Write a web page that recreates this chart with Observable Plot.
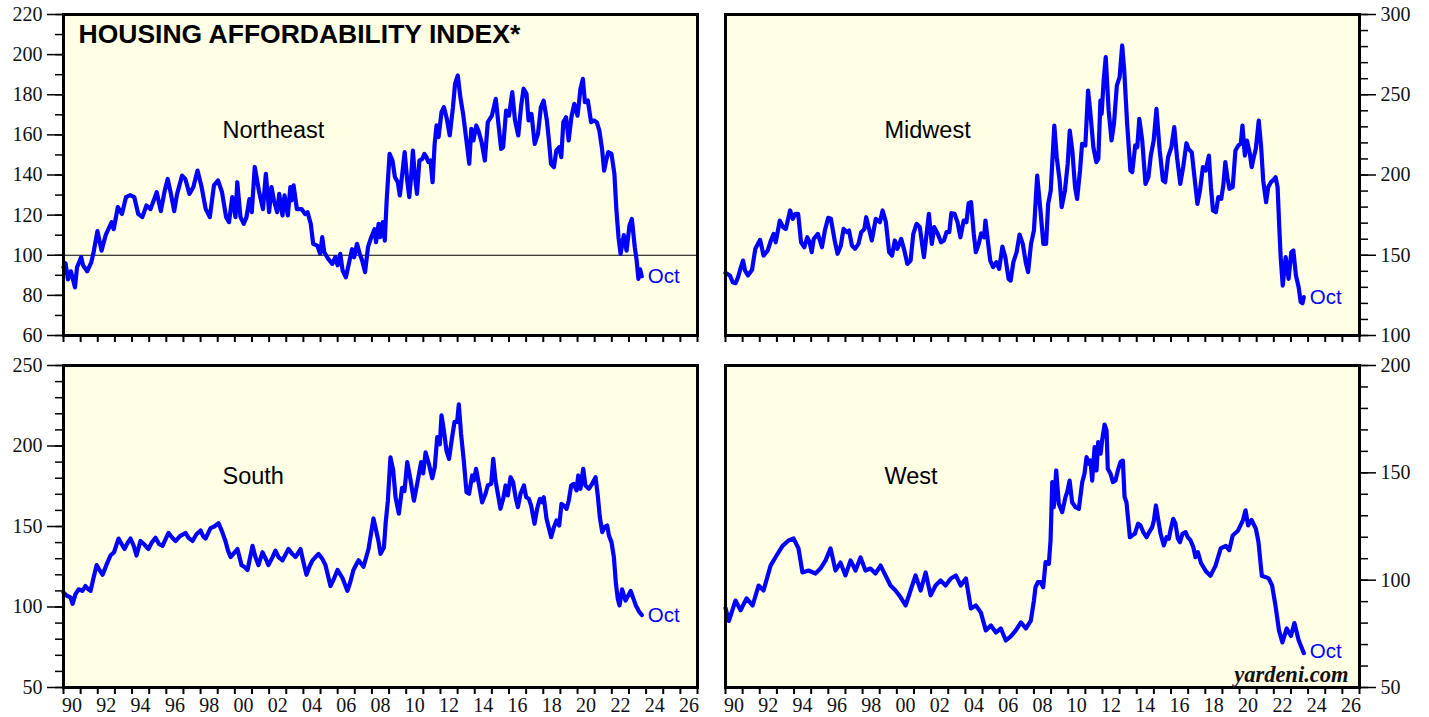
<!DOCTYPE html>
<html>
<head>
<meta charset="utf-8">
<script src="https://cdn.jsdelivr.net/npm/d3@7"></script>
<script src="https://cdn.jsdelivr.net/npm/@observablehq/plot@0.6"></script>
<style>
  html, body { margin: 0; padding: 0; background: #ffffff; width: 1429px; height: 717px; overflow: hidden; }
  #wrap { position: relative; width: 1429px; height: 717px; }
  .panel { position: absolute; }
</style>
</head>
<body>
<div id="wrap"></div>
<script>
// ---------------- DATA (decimal year, index value) ----------------
const northeast = [[1990.00,94],[1990.12,96],[1990.26,88],[1990.43,92],[1990.67,84],[1990.79,94],[1991.03,99],[1991.14,95],[1991.38,92],[1991.62,96.5],[1991.74,100.7],[1991.98,112],[1992.22,102.3],[1992.46,110],[1992.81,116.5],[1992.93,113],[1993.17,124],[1993.41,120.6],[1993.65,129],[1993.89,130],[1994.13,129],[1994.36,120.6],[1994.60,119],[1994.84,124.8],[1995.08,123],[1995.44,131.4],[1995.68,122],[1995.91,132.3],[1996.08,138],[1996.27,130.6],[1996.46,122],[1996.63,130.6],[1996.92,139.7],[1997.11,138],[1997.35,130.6],[1997.58,134],[1997.82,142.2],[1998.06,134],[1998.30,123],[1998.54,119],[1998.78,134.8],[1999.02,137.3],[1999.25,131.4],[1999.49,119],[1999.66,116.5],[1999.85,129],[2000.04,119],[2000.14,136.4],[2000.33,119],[2000.52,115.7],[2000.68,119],[2000.85,128],[2000.99,121.5],[2001.16,144],[2001.40,132.3],[2001.64,123],[2001.81,140.6],[2002.00,121.5],[2002.14,134],[2002.28,127.3],[2002.47,121.5],[2002.59,130.6],[2002.78,119.8],[2002.90,129.8],[2003.09,119.8],[2003.24,134],[2003.31,127.3],[2003.43,134.8],[2003.62,123],[2003.90,123],[2004.10,120.6],[2004.24,121.5],[2004.43,115.7],[2004.57,105.7],[2004.81,104.8],[2004.98,100.7],[2005.10,109],[2005.22,101.5],[2005.45,98.2],[2005.69,95.7],[2005.86,99],[2006.00,95],[2006.15,100.7],[2006.29,92.4],[2006.48,89],[2006.65,95.7],[2006.84,103],[2006.96,99],[2007.13,105.7],[2007.29,100.7],[2007.43,97.4],[2007.60,91.6],[2007.77,104],[2007.96,109],[2008.15,113],[2008.24,106.5],[2008.39,115.7],[2008.48,109],[2008.63,116.5],[2008.75,107.3],[2008.86,127.3],[2009.03,150.5],[2009.20,147.2],[2009.34,139],[2009.51,136.4],[2009.63,129.8],[2009.75,139],[2009.91,151.4],[2010.06,137.3],[2010.18,129],[2010.30,140.6],[2010.39,152.2],[2010.51,139],[2010.63,130.6],[2010.77,147.2],[2010.94,148],[2011.06,150.5],[2011.18,148.9],[2011.30,146.4],[2011.42,147.2],[2011.54,136.4],[2011.66,155.5],[2011.77,164.7],[2011.89,158.9],[2012.06,171.3],[2012.20,173.8],[2012.37,168],[2012.54,159.7],[2012.73,173.8],[2012.85,185.4],[2013.01,189.6],[2013.16,178.8],[2013.32,170.5],[2013.49,158.9],[2013.68,145.6],[2013.80,163],[2013.92,157.2],[2014.09,164.7],[2014.21,162.2],[2014.40,156.4],[2014.59,147.2],[2014.76,166.3],[2015.00,169.6],[2015.23,178],[2015.35,168],[2015.54,153],[2015.66,153.9],[2015.83,172.1],[2016.00,169.6],[2016.19,181.3],[2016.35,167.2],[2016.54,159.7],[2016.71,174.6],[2016.85,183],[2017.02,180.5],[2017.14,167.2],[2017.31,170.5],[2017.50,155.5],[2017.69,160.5],[2017.86,173.8],[2018.02,177.1],[2018.21,167.2],[2018.33,157.2],[2018.45,145.6],[2018.62,143.9],[2018.76,152.2],[2018.93,153.9],[2019.05,148.9],[2019.17,166.3],[2019.33,168.8],[2019.48,157.2],[2019.64,168.8],[2019.81,175.5],[2020.00,169.6],[2020.17,183],[2020.31,187.9],[2020.43,176.3],[2020.60,177.1],[2020.79,166.3],[2020.96,167.2],[2021.12,166.3],[2021.27,162.2],[2021.43,153],[2021.55,142.2],[2021.67,147.2],[2021.79,151.4],[2021.98,150.5],[2022.15,140.6],[2022.27,122.3],[2022.39,109],[2022.51,100.7],[2022.70,110],[2022.86,102.3],[2023.03,114.8],[2023.17,118.1],[2023.34,104],[2023.45,97.4],[2023.55,88.2],[2023.65,93],[2023.75,89.5]];

const midwest = [[1990.00,139],[1990.26,137.4],[1990.42,133.2],[1990.59,132.6],[1990.73,136.3],[1990.90,142.6],[1991.02,146.7],[1991.14,140.5],[1991.31,137.4],[1991.55,141],[1991.74,154],[1992.02,159.6],[1992.22,149.8],[1992.46,152.9],[1992.65,159.2],[1992.81,163.3],[1992.93,158.1],[1993.17,171.6],[1993.36,167.5],[1993.52,166.4],[1993.77,177.9],[1993.93,172.7],[1994.08,175.8],[1994.24,175.8],[1994.41,158.1],[1994.60,155],[1994.77,161.2],[1994.91,158.1],[1995.03,151.9],[1995.15,160.2],[1995.39,163.3],[1995.63,155],[1995.80,165.4],[1995.99,173.3],[1996.15,172.7],[1996.37,159.2],[1996.54,150.9],[1996.73,156],[1996.89,166.4],[1997.09,164.4],[1997.21,165.4],[1997.38,156],[1997.56,154],[1997.76,157.1],[1997.92,164.4],[1998.11,166.4],[1998.21,173.7],[1998.40,165.4],[1998.54,159.2],[1998.77,172.7],[1999.01,170.6],[1999.17,177.9],[1999.36,170.6],[1999.55,151.9],[1999.72,149.8],[1999.88,159.2],[2000.03,154],[2000.25,160.2],[2000.44,152.9],[2000.61,144.6],[2000.80,146.7],[2000.96,163.3],[2001.15,169.6],[2001.34,167.5],[2001.58,148.8],[2001.87,175.8],[2002.04,157.1],[2002.18,167.5],[2002.39,163.3],[2002.58,158.1],[2002.75,159.2],[2002.90,164.4],[2003.06,164.4],[2003.18,176.2],[2003.37,175.8],[2003.54,170.6],[2003.71,161.2],[2003.90,171.6],[2004.06,170.6],[2004.19,182.4],[2004.33,183.1],[2004.49,163.3],[2004.61,151.9],[2004.78,157.1],[2004.92,163.7],[2005.09,161.2],[2005.17,171.6],[2005.33,157.1],[2005.45,146.7],[2005.62,142.6],[2005.81,145.7],[2005.97,141.5],[2006.16,155.4],[2006.33,148.8],[2006.52,135.3],[2006.64,134.2],[2006.80,145.7],[2006.99,151.9],[2007.16,162.9],[2007.35,157.1],[2007.52,145.7],[2007.66,139.5],[2007.83,157.1],[2008.00,165.4],[2008.19,199.7],[2008.38,177.9],[2008.55,157.1],[2008.71,157.1],[2008.83,182],[2008.98,190.3],[2009.19,230.8],[2009.33,211.1],[2009.50,196.6],[2009.62,180],[2009.81,190.3],[2009.97,206.9],[2010.09,227.7],[2010.24,215.3],[2010.40,192.4],[2010.52,185.1],[2010.69,202.8],[2010.81,219.4],[2011.00,218.4],[2011.16,252.6],[2011.28,240.2],[2011.47,217.3],[2011.64,208],[2011.76,210.1],[2011.88,246.4],[2011.95,238.1],[2012.07,258.9],[2012.19,273.4],[2012.36,240.2],[2012.53,221.5],[2012.67,231.9],[2012.84,255.8],[2013.00,261],[2013.15,280.7],[2013.27,265.1],[2013.44,231.9],[2013.63,202.8],[2013.74,201.8],[2013.91,218.4],[2014.03,217.3],[2014.15,235],[2014.32,221.5],[2014.51,194.5],[2014.68,198.6],[2014.82,212.1],[2014.99,221.5],[2015.15,241.2],[2015.34,215.3],[2015.53,196.6],[2015.66,195.5],[2015.83,211.1],[2016.02,217.3],[2016.19,229.8],[2016.35,211.1],[2016.54,194.5],[2016.71,204.9],[2016.90,219.8],[2017.02,216.3],[2017.21,214.2],[2017.37,198.6],[2017.54,182],[2017.69,190.3],[2017.86,204.9],[2018.02,202.8],[2018.21,212.1],[2018.33,192.4],[2018.45,177.9],[2018.62,176.8],[2018.76,186.2],[2018.93,185.1],[2019.05,193.4],[2019.17,208],[2019.29,198.6],[2019.41,191.4],[2019.60,192.4],[2019.76,215.3],[2019.93,218.4],[2020.07,219.4],[2020.17,230.8],[2020.31,212.1],[2020.43,221.5],[2020.60,213.2],[2020.71,204.9],[2020.83,211.1],[2020.95,216.3],[2021.12,233.9],[2021.26,217.3],[2021.38,196.6],[2021.55,183.1],[2021.67,192.4],[2021.83,195.5],[2021.98,197],[2022.10,198.6],[2022.22,192.4],[2022.31,169.6],[2022.40,148.8],[2022.52,131.1],[2022.69,148.8],[2022.86,135.3],[2023.02,151.9],[2023.14,152.9],[2023.29,137.4],[2023.45,130.1],[2023.57,120.8],[2023.67,120.1],[2023.75,123.9]];

const south = [[1990.00,109],[1990.20,107],[1990.41,106],[1990.53,102],[1990.70,108],[1990.88,111],[1991.10,110],[1991.28,113],[1991.45,111],[1991.58,110],[1991.75,118],[1991.93,126],[1992.10,123],[1992.28,120],[1992.50,126],[1992.74,132],[1992.95,134],[1993.21,142.5],[1993.40,139],[1993.56,136],[1993.75,140],[1993.91,142.5],[1994.10,138],[1994.26,132],[1994.49,141],[1994.70,139],[1994.96,136],[1995.15,140],[1995.37,143],[1995.58,139],[1995.78,138],[1995.95,142],[1996.13,146],[1996.35,143],[1996.54,141],[1996.80,144],[1997.12,146],[1997.30,143],[1997.53,141],[1997.75,145],[1998.00,147.5],[1998.15,144],[1998.29,142.5],[1998.58,149],[1998.80,150],[1999.05,152],[1999.25,147],[1999.45,141],[1999.60,135],[1999.75,131],[2000.15,136],[2000.39,126],[2000.55,125],[2000.74,123],[2001.03,138],[2001.20,131],[2001.38,126],[2001.61,134],[2001.80,130],[2001.96,126],[2002.20,131],[2002.37,135],[2002.55,131],[2002.78,129],[2003.13,136],[2003.35,133],[2003.54,131],[2003.83,136],[2004.00,128],[2004.18,120],[2004.35,125],[2004.53,129],[2004.88,133],[2005.10,130],[2005.29,126],[2005.58,113],[2005.80,118],[2005.99,123],[2006.28,118],[2006.57,110],[2006.75,116],[2006.92,123],[2007.22,129],[2007.51,125],[2007.80,136],[2008.09,155],[2008.38,141],[2008.50,133],[2008.70,137],[2008.80,152],[2008.93,166],[2009.08,193],[2009.24,185],[2009.38,168],[2009.57,158],[2009.76,174],[2009.90,172],[2010.06,190],[2010.25,179],[2010.45,166],[2010.64,176.5],[2010.87,190],[2010.99,183],[2011.13,196],[2011.32,189],[2011.52,180],[2011.67,187],[2011.81,205.5],[2011.96,201],[2012.06,219],[2012.20,209.6],[2012.35,197],[2012.50,192],[2012.68,205.5],[2012.82,215],[2012.97,215],[2013.07,225.8],[2013.20,207.6],[2013.36,191],[2013.52,171.3],[2013.67,170.3],[2013.85,181.7],[2013.95,178.6],[2014.08,185.8],[2014.24,176.5],[2014.43,165],[2014.63,170.3],[2014.76,175.5],[2014.96,176.5],[2015.08,192],[2015.21,178.6],[2015.35,170.3],[2015.50,161],[2015.66,167.2],[2015.80,175.5],[2015.93,169.3],[2016.09,180.6],[2016.24,177.5],[2016.38,168.2],[2016.52,162],[2016.67,170.3],[2016.87,175.5],[2017.00,168.2],[2017.16,167.2],[2017.29,163],[2017.49,151.7],[2017.64,161],[2017.80,167.2],[2017.94,165],[2018.03,168.2],[2018.19,154.8],[2018.46,143.4],[2018.62,149.6],[2018.77,153.7],[2018.93,150.6],[2019.06,164],[2019.20,163],[2019.36,161],[2019.49,166.2],[2019.63,175.5],[2019.78,176.5],[2019.94,172.4],[2020.04,181.7],[2020.17,173.4],[2020.33,185.8],[2020.46,175.5],[2020.66,173.4],[2020.85,176.5],[2021.05,180.6],[2021.18,169.3],[2021.30,155.8],[2021.44,146.5],[2021.57,149.6],[2021.73,150.6],[2021.83,144.4],[2021.98,140.3],[2022.12,131],[2022.24,114.4],[2022.35,105],[2022.45,101],[2022.60,111],[2022.80,104],[2023.10,110],[2023.40,101],[2023.60,97],[2023.75,95]];

const west = [[1990.00,87],[1990.20,81],[1990.58,90.5],[1990.88,86],[1991.23,91.5],[1991.58,88.2],[1991.93,97.5],[1992.22,95.2],[1992.63,106.8],[1992.98,111.5],[1993.33,116],[1993.68,118.5],[1993.97,119.4],[1994.26,114.8],[1994.49,103.6],[1994.84,104.5],[1995.25,103.1],[1995.54,105.4],[1995.84,109.2],[1996.13,114.8],[1996.42,104.5],[1996.71,108.2],[1997.00,102.2],[1997.30,109.2],[1997.59,104.5],[1997.88,110.6],[1998.17,104.5],[1998.46,105.4],[1998.75,103.1],[1999.05,106.8],[1999.34,102.2],[1999.63,97.5],[1999.92,95.2],[2000.22,92],[2000.51,88.2],[2000.80,95.2],[2001.09,102.2],[2001.39,95.2],[2001.68,103.6],[2001.97,92.9],[2002.26,97.5],[2002.55,99.9],[2002.84,97.5],[2003.15,100.8],[2003.44,102.2],[2003.73,97.5],[2004.03,100.8],[2004.32,86.8],[2004.61,88.2],[2004.90,85],[2005.19,76.6],[2005.49,78.9],[2005.78,75.6],[2006.07,77.5],[2006.36,71.9],[2006.65,73.8],[2006.94,76.6],[2007.24,80.3],[2007.53,77.5],[2007.82,81.2],[2008.00,90.5],[2008.09,96.7],[2008.23,99.1],[2008.38,99.1],[2008.54,96.7],[2008.68,108.4],[2008.87,107.6],[2008.97,118.5],[2009.07,145.7],[2009.16,134],[2009.30,151.1],[2009.45,135.6],[2009.65,131.7],[2009.84,138.7],[2009.94,141],[2010.08,146.4],[2010.23,136.3],[2010.43,134],[2010.62,133.2],[2010.82,145.7],[2010.95,149.6],[2011.07,157.3],[2011.21,154.2],[2011.30,155.8],[2011.40,146.4],[2011.54,162],[2011.65,151.1],[2011.75,164.3],[2011.89,158.9],[2011.98,165.1],[2012.12,172.5],[2012.24,169.7],[2012.31,151.9],[2012.47,149.6],[2012.61,145.7],[2012.76,146.4],[2012.90,151.1],[2013.05,155],[2013.19,155.7],[2013.29,138.7],[2013.40,136.3],[2013.60,120],[2013.73,120.8],[2013.89,121.6],[2014.08,126.3],[2014.22,125.5],[2014.38,122.4],[2014.57,120],[2014.73,122.4],[2014.90,124.7],[2015.00,127.8],[2015.12,134.8],[2015.23,129.4],[2015.39,121.6],[2015.58,116.2],[2015.74,120],[2015.87,119.3],[2016.01,124.7],[2016.13,128.6],[2016.26,126.3],[2016.40,119.3],[2016.52,117.7],[2016.67,121.6],[2016.85,122.4],[2016.98,120],[2017.14,118.5],[2017.30,115.4],[2017.43,110.7],[2017.57,113],[2017.75,108],[2018.05,104],[2018.30,102],[2018.60,106.8],[2018.90,114.8],[2019.20,116],[2019.40,114],[2019.60,120.8],[2019.90,123],[2020.20,128],[2020.35,132.5],[2020.50,125.5],[2020.70,128],[2020.95,124],[2021.10,118],[2021.30,102],[2021.50,101.5],[2021.70,100.8],[2021.90,97.5],[2022.10,88],[2022.30,76.6],[2022.50,71],[2022.75,77.5],[2023.00,74],[2023.20,80],[2023.45,72],[2023.75,66]];

// ---------------- TEXT / TICKS ----------------
const chartTitle = "HOUSING AFFORDABILITY INDEX*";
const regionNames = ["Northeast", "Midwest", "South", "West"];
const lastMonthLabel = "Oct";
const sourceLabel = "yardeni.com";
const yearTicks = d3.range(1990, 2028);          // one tick per year
const labelYears = d3.range(1990, 2027, 2);       // labelled years (centred in the year)
const xTickLabels = labelYears.map(y => String(y % 100).padStart(2, "0"));
const xDomain = [1990, 2027];

// ---------------- STYLE ----------------
const BG = "#ffffe6";
const BLUE = "#0000ff";
const SERIF = "'Liberation Serif', 'Times New Roman', Times, serif";
const SANS = "'Liberation Sans', Arial, Helvetica, sans-serif";

const panels = [
  {data: northeast, name: regionNames[0], domain: [60, 220], major: d3.range(60, 221, 20), minor: d3.range(60, 221, 10), col: 0, row: 0, ref: [100], title: true},
  {data: midwest,   name: regionNames[1], domain: [100, 300], major: d3.range(100, 301, 50), minor: d3.range(100, 301, 10), col: 1, row: 0},
  {data: south,     name: regionNames[2], domain: [50, 250], major: d3.range(50, 251, 50), minor: d3.range(50, 251, 10), col: 0, row: 1},
  {data: west,      name: regionNames[3], domain: [50, 200], major: d3.range(50, 201, 50), minor: d3.range(50, 201, 10), col: 1, row: 1, source: true}
];

const wrap = document.getElementById("wrap");

for (const p of panels) {
  const left = p.col === 0 ? 0 : 714;
  const width = p.col === 0 ? 714 : 715;
  const top = p.row === 0 ? 0 : 350;
  const height = p.row === 0 ? 345 : 367;
  const marginLeft = p.col === 0 ? 63 : 11;
  const marginRight = p.col === 0 ? 17 : 70;
  const marginTop = p.row === 0 ? 14 : 15;
  const marginBottom = p.row === 0 ? 10 : 30;
  const anchor = p.col === 0 ? "left" : "right";
  const last = p.data[p.data.length - 1];

  const marks = [
    Plot.frame({fill: BG}),
    ...(p.ref ? [Plot.ruleY(p.ref, {stroke: "#000", strokeWidth: 1.2})] : []),
    Plot.line(p.data, {x: d => d[0], y: d => d[1], stroke: BLUE, strokeWidth: 4.2, strokeLinejoin: "round", strokeLinecap: "round"}),
    Plot.text([last], {x: d => d[0], y: d => d[1], text: () => lastMonthLabel, dx: 6, dy: p.source ? -2 : 0, textAnchor: "start", lineAnchor: "middle", fill: BLUE, fontSize: 20.5, fontFamily: SANS}),
    Plot.text([p.name], {text: d => d, frameAnchor: "top-left", dx: 159, dy: p.row === 0 ? 116 : 111, textAnchor: "start", lineAnchor: "middle", fill: "#000", fontSize: 23.5, fontFamily: SANS}),
    Plot.frame({stroke: "#000", strokeWidth: 3}),
    // y axis: minor then major ticks
    Plot.axisY({anchor, ticks: p.minor, tickSize: 8, tickFormat: () => "", strokeWidth: 1.5, label: null}),
    Plot.axisY({anchor, ticks: p.major, tickSize: 16, tickPadding: 5, tickFormat: d => String(d), strokeWidth: 1.5, label: null, fontSize: 20, fontFamily: SERIF, fill: "#111"}),
    // x axis: one tick per year
    Plot.axisX({ticks: yearTicks, tickSize: 7, tickFormat: () => "", strokeWidth: 2, label: null})
  ];
  if (p.row === 1) {
    marks.push(Plot.axisX({ticks: labelYears.map(y => y + 0.5), tickSize: 0, tickPadding: 10, tickFormat: d => xTickLabels[labelYears.indexOf(Math.floor(d))], label: null, fontSize: 20, fontFamily: SERIF, fill: "#111"}));
  }
  if (p.title) {
    marks.push(Plot.text([chartTitle], {text: d => d, frameAnchor: "top-left", dx: 15, dy: 20, textAnchor: "start", lineAnchor: "middle", fontWeight: "bold", fontSize: 26.5, fontFamily: SANS, fill: "#000"}));
  }
  if (p.source) {
    marks.push(Plot.text([sourceLabel], {text: d => d, frameAnchor: "bottom-right", dx: -11, dy: -13, textAnchor: "end", lineAnchor: "middle", fontWeight: "bold", fontStyle: "italic", fontSize: 22.5, fontFamily: SERIF, fill: "#111"}));
  }

  const svg = Plot.plot({
    width, height, marginLeft, marginRight, marginTop, marginBottom,
    x: {type: "linear", domain: xDomain},
    y: {type: "linear", domain: p.domain},
    style: {background: "transparent", fontFamily: SERIF, fontSize: "20px", overflow: "visible"},
    marks
  });
  const div = document.createElement("div");
  div.className = "panel";
  div.style.left = left + "px";
  div.style.top = top + "px";
  div.appendChild(svg);
  wrap.appendChild(div);
}
</script>
</body>
</html>
